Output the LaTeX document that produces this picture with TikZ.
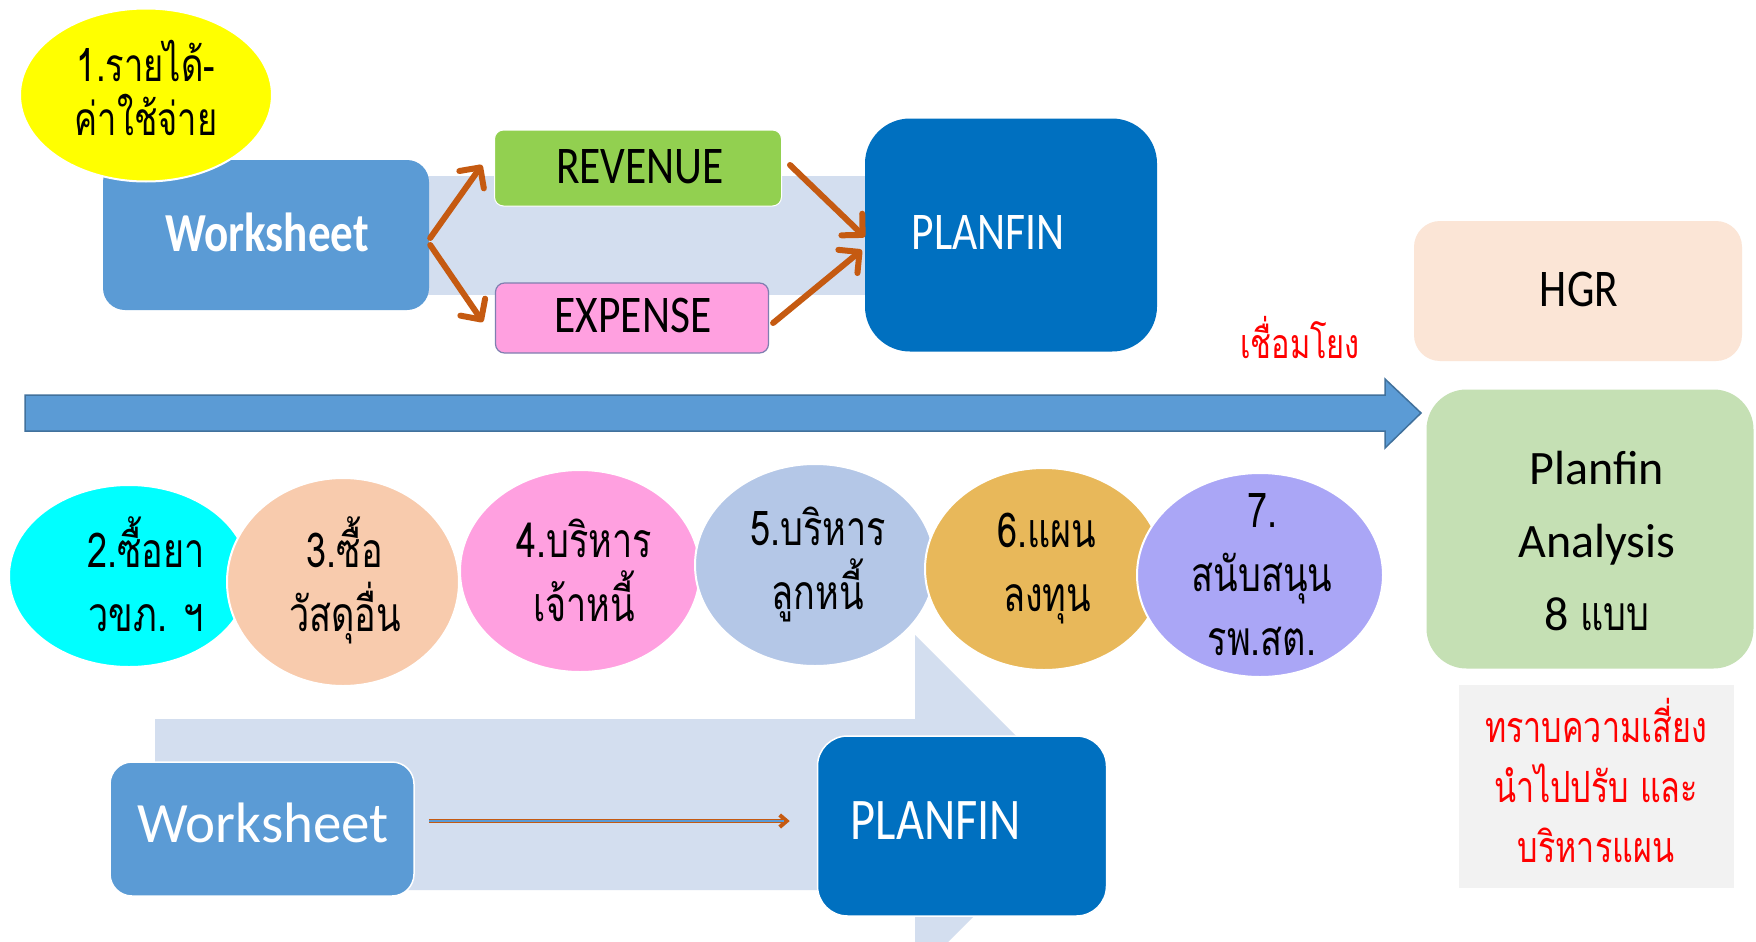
\documentclass[tikz,border=0pt]{standalone}
\usepackage{fontspec}
\setmainfont{Carlito}
\newfontfamily\narrow[FakeStretch=0.82]{Carlito}
\newfontfamily\thai[Script=Thai,FakeStretch=0.75]{Loma}
\usetikzlibrary{shapes.geometric,arrows.meta,calc}
\definecolor{cyellow}{HTML}{FFFF00}
\definecolor{cws}{HTML}{5B9BD5}
\definecolor{cband}{HTML}{D3DEEF}
\definecolor{crev}{HTML}{92D050}
\definecolor{cexp}{HTML}{FFA0E0}
\definecolor{cexpline}{HTML}{7F7FB0}
\definecolor{cpf}{HTML}{0070C0}
\definecolor{corange}{HTML}{C55A11}
\definecolor{cbigline}{HTML}{41719C}
\definecolor{chgr}{HTML}{FBE5D6}
\definecolor{cpa}{HTML}{C5E0B4}
\definecolor{cgray}{HTML}{F2F2F2}
\definecolor{ccyan}{HTML}{00FFFF}
\definecolor{cpeach}{HTML}{F8CBAD}
\definecolor{cpink}{HTML}{FFA0E0}
\definecolor{clblue}{HTML}{B4C7E7}
\definecolor{cgold}{HTML}{E8B85A}
\definecolor{clav}{HTML}{AAA6F6}
\definecolor{cred}{HTML}{FF0000}
\begin{document}
\begin{tikzpicture}[x=1pt,y=-1pt,
  bubble/.style={ellipse, draw=white, line width=2pt, inner sep=0pt},
  rbox/.style={rectangle, inner sep=0pt},
  thaitxt/.style={font=\thai\fontsize{48}{64}\selectfont, align=center, text=black},
  orarrow/.style={draw=corange, line width=6pt, line cap=round, -{Straight Barb[length=15pt,width=30pt,round]}},
  lattxt/.style={font=\narrow\fontsize{53}{60}\selectfont}]
\useasboundingbox (0,0) rectangle (1756,942);
\clip (0,0) rectangle (1756,942);
\fill[white] (0,0) rectangle (1756,942);

% ---------- top section ----------
\fill[cband] (420,176) rectangle (870,295);
\node[rbox, fill=cws, rounded corners=22pt, minimum width=326pt, minimum height=150pt] (ws1) at (266,235) {};
\node[font=\narrow\bfseries\fontsize{55}{60}\selectfont, text=white] (ws1t) at (267,232) {Worksheet};
\node[bubble, fill=cyellow, minimum width=252pt, minimum height=173pt] (e1) at (146,95) {};
\node[thaitxt, font=\thai\fontsize{46}{54}\selectfont] (e1t) at (146,88) {1.รายได้-\\ค่าใช้จ่าย};

\node[rbox, fill=crev, draw=white, line width=1pt, rounded corners=9pt, minimum width=287pt, minimum height=76pt] (rev) at (638,168) {};
\node[lattxt] (revt) at (640,167) {REVENUE};
\node[rbox, fill=cexp, draw=cexpline, line width=1.2pt, rounded corners=9pt, minimum width=273pt, minimum height=70pt] (exp) at (632,318) {};
\node[lattxt] (expt) at (633,315) {EXPENSE};
\node[rbox, fill=cpf, rounded corners=45pt, minimum width=292pt, minimum height=233pt] (pf1) at (1011,235) {};
\node[lattxt, text=white] (pf1t) at (988,232) {PLANFIN};

\draw[orarrow] ($(ws1.east)+(1,3)$) -- ($(rev.west)+(-12,-3)$);
\draw[orarrow] ($(ws1.east)+(1,10)$) -- ($(exp.west)+(-12,4)$);
\draw[orarrow] ($(rev.east)+(8,-3)$) -- ($(pf1.west)+(0,2)$);
\draw[orarrow] ($(exp.east)+(4,5)$) -- ($(pf1.west)+(-3,15)$);

% ---------- big blue arrow ----------
\draw[fill=cws, draw=cbigline, line width=1.5pt, line join=miter]
  (25,395) -- (1385,395) -- (1385,379) -- (1421,413) -- (1385,448) -- (1385,431) -- (25,431) -- cycle;
\node[font=\thai\fontsize{41}{44}\selectfont, text=cred] (link) at (1300,338) {เชื่อมโยง};

% ---------- right column ----------
\node[rbox, fill=chgr, rounded corners=26pt, minimum width=328pt, minimum height=140pt] (hgr) at (1578,291) {};
\node[lattxt] (hgrt) at (1579,289) {HGR};
\node[rbox, fill=cpa, rounded corners=40pt, minimum width=327pt, minimum height=279pt] (pa) at (1590,529) {};
\node[font=\fontsize{48}{73}\selectfont, align=center] (pat) at (1597,541) {Planfin\\Analysis\\8 {\thai แบบ}};
\node[rbox, fill=cgray, minimum width=275pt, minimum height=203pt] (risk) at (1596,786) {};
\node[font=\thai\fontsize{43}{60}\selectfont, align=center, text=cred] (riskt) at (1596,780) {ทราบความเสี่ยง\\นำไปปรับ และ\\บริหารแผน};

% ---------- bottom light arrow ----------
\fill[cband] (155,719) -- (915,719) -- (915,635) -- (1085,805) -- (915,975) -- (915,890) -- (155,890) -- cycle;

% ---------- bubbles ----------
\node[bubble, fill=ccyan, minimum width=240pt, minimum height=182pt] (e2) at (129,576) {};
\node[thaitxt] (e2t) at (146,574) {2.ซื้อยา\\วขภ. ฯ};
\node[bubble, fill=cpeach, minimum width=232pt, minimum height=208pt] (e3) at (343,582) {};
\node[thaitxt] (e3t) at (345,580) {3.ซื้อ\\วัสดุอื่น};
\node[bubble, fill=cpink, minimum width=240pt, minimum height=202pt] (e4) at (580,571) {};
\node[thaitxt] (e4t) at (584,570) {4.บริหาร\\เจ้าหนี้};
\node[bubble, fill=clblue, minimum width=240pt, minimum height=202pt] (e5) at (815,565) {};
\node[thaitxt] (e5t) at (818,564) {5.บริหาร\\ลูกหนี้};
\node[bubble, fill=cgold, minimum width=238pt, minimum height=202pt] (e6) at (1044,569) {};
\node[thaitxt] (e6t) at (1047,569) {6.แผน\\ลงทุน};
\node[bubble, fill=clav, minimum width=246pt, minimum height=204pt] (e7) at (1260,575) {};
\node[thaitxt] (e7t) at (1262,575) {7.\\สนับสนุน\\รพ.สต.};

% ---------- bottom row ----------
\node[rbox, fill=cws, draw=white, line width=1.5pt, rounded corners=22pt, minimum width=304pt, minimum height=134pt] (ws2) at (262,829) {};
\node[font=\fontsize{57}{64}\selectfont, text=white] (ws2t) at (263,823) {Worksheet};
\node[rbox, fill=cpf, draw=white, line width=1.5pt, rounded corners=30pt, minimum width=289pt, minimum height=180pt] (pf2) at (962,826) {};
\node[font=\narrow\fontsize{59}{64}\selectfont, text=white] (pf2t) at (936,821) {PLANFIN};
\draw[draw=corange, line width=4pt, -{Straight Barb[length=7pt,width=12pt]}] ($(ws2.east)+(14,-8)$) -- ($(pf2.west)+(-27,-5)$);
\draw[draw=cws, line width=1.2pt] ($(ws2.east)+(14,-8)$) -- ($(pf2.west)+(-33,-5)$);
\end{tikzpicture}
\end{document}
